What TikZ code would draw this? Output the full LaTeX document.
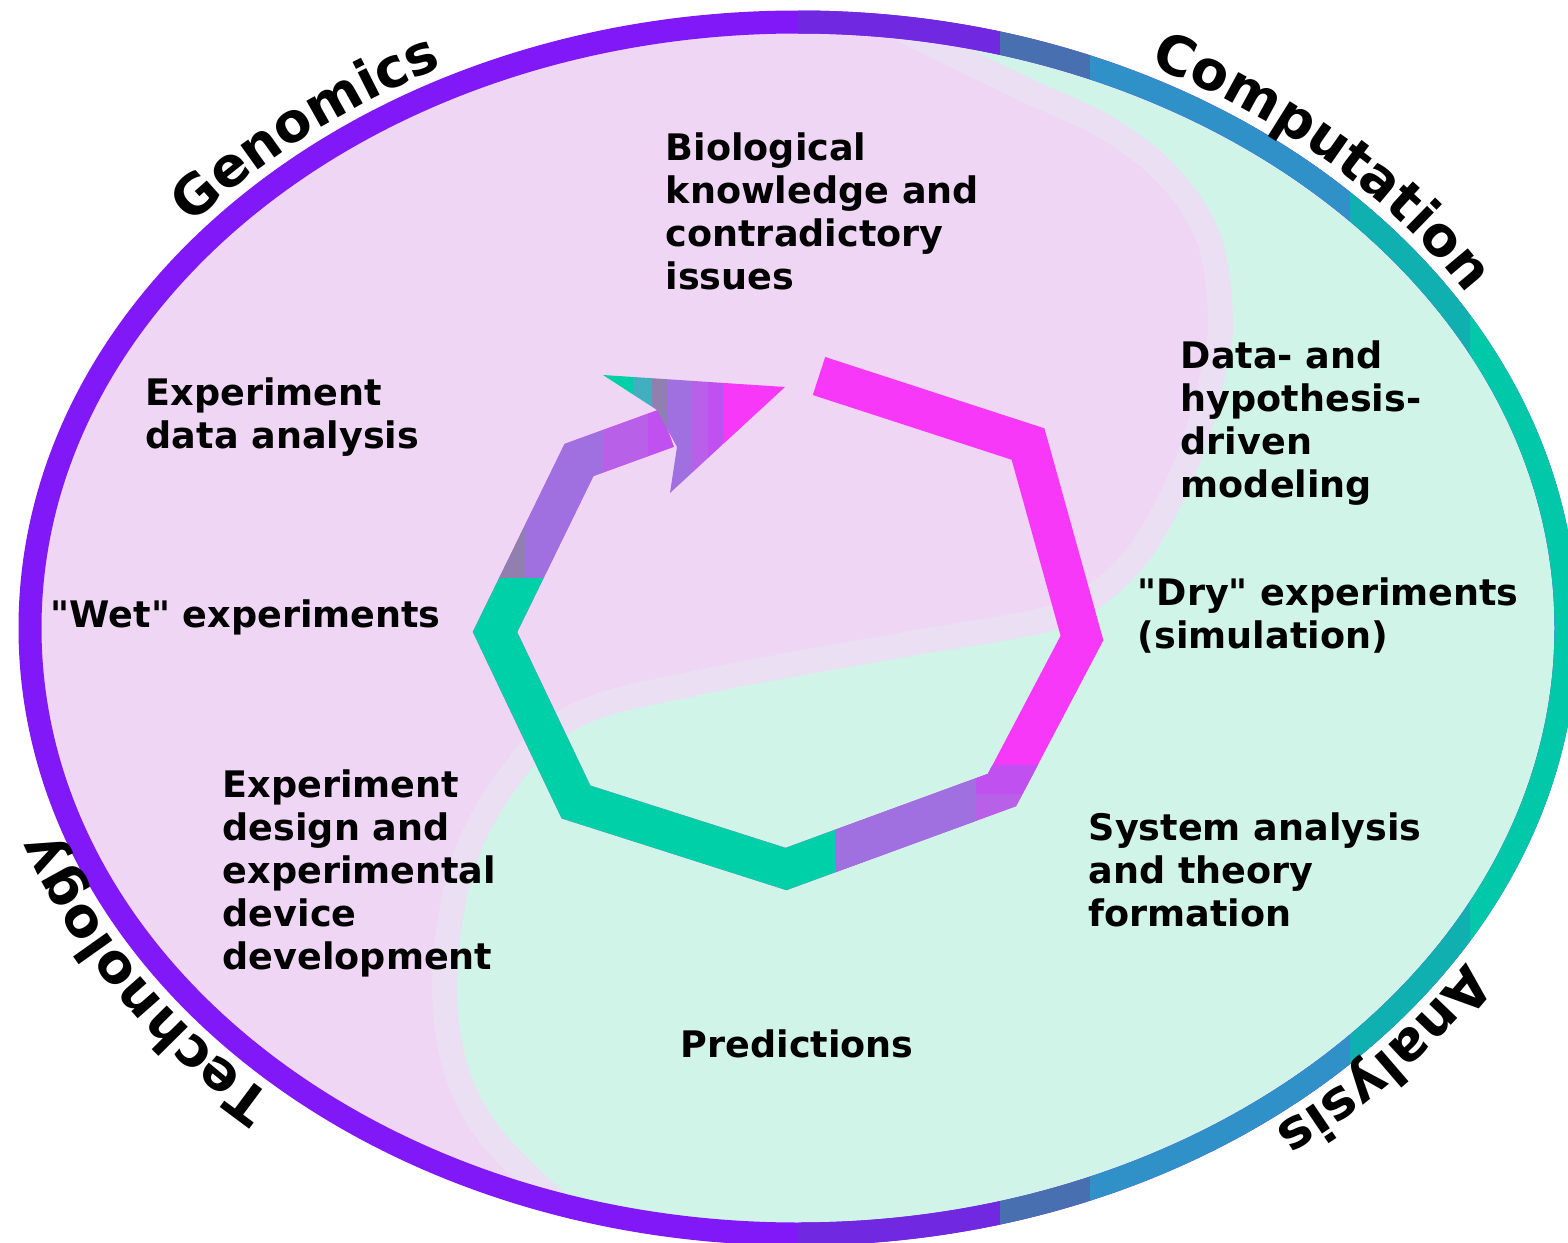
\documentclass[tikz,border=0pt]{standalone}
\usepackage{fontspec}
\newfontfamily\lblfont{DejaVu Sans}
\usetikzlibrary{decorations.text}

\definecolor{bgpink}{HTML}{EED6F4}
\definecolor{bgmint}{HTML}{D0F4E8}
\definecolor{bgband}{HTML}{EBDFF3}
\definecolor{rimpurple}{HTML}{8018F8}
\definecolor{rimviolet}{HTML}{7028E0}
\definecolor{rimslate}{HTML}{4870B0}
\definecolor{rimblue}{HTML}{3090C8}
\definecolor{rimcyan}{HTML}{10B0B0}
\definecolor{rimteal}{HTML}{00C8A8}
\definecolor{cycmagenta}{HTML}{F838F8}
\definecolor{cycpurple}{HTML}{C050F0}
\definecolor{cycorchid}{HTML}{B860E8}
\definecolor{cyclav}{HTML}{A070E0}
\definecolor{cycslate}{HTML}{9080B0}
\definecolor{cycsea}{HTML}{40B0C0}
\definecolor{cycteal}{HTML}{00D0A8}

\tikzset{
  lbl/.style={font=\lblfont\bfseries\fontsize{10.4}{12.2}\selectfont, align=left, anchor=base west, inner sep=0pt},
  cyc/.style={line width=4mm},
  rim/.style={line width=2.3mm},
  arclbl/.style={decorate, decoration={text along path, text align=center,
      text={|\lblfont\bfseries\fontsize{15.5}{18}\selectfont|#1}}},
}

\begin{document}
\begin{tikzpicture}[x=0.1mm, y=-0.1mm]
    \fill[white] (0,0) rectangle (1568,1243);
    \useasboundingbox (0,0) rectangle (1568,1243);

    % 背景（ピンクとミントの領域）
    \fill[bgpink] (798,628) ellipse[x radius=768, y radius=606];
    \begin{scope}
      \clip (798,628) ellipse[x radius=768, y radius=606];
      \draw[bgband, line width=5mm] plot[smooth, tension=0.6] coordinates {(870,0) (1028,77) (1113,117) (1177,167) (1220,233) (1233,314) (1227,368) (1207,444) (1183,502) (1150,559) (1110,600) (1056,630) (900,658) (700,695) (579,728) (512,795) (470,885) (458,1010) (489,1112) (579,1207) (640,1260)};
      \fill[bgmint] plot[smooth, tension=0.6] coordinates {(870,0) (1028,77) (1113,117) (1177,167) (1220,233) (1233,314) (1227,368) (1207,444) (1183,502) (1150,559) (1110,600) (1056,630) (900,658) (700,695) (579,728) (512,795) (470,885) (458,1010) (489,1112) (579,1207) (640,1260)} -- (1600,1260) -- (1600,-10) -- cycle;
    \end{scope}

    % 外周の枠
    \draw[rim, rimpurple] (798,628) ellipse[x radius=768, y radius=606];
    \begin{scope}
      \clip (798,-50) rectangle (1000,1300);
      \draw[rim, rimviolet] (798,628) ellipse[x radius=768, y radius=606];
    \end{scope}
    \begin{scope}
      \clip (1000,-50) rectangle (1090,1300);
      \draw[rim, rimslate] (798,628) ellipse[x radius=768, y radius=606];
    \end{scope}
    \begin{scope}
      \clip (1090,-50) rectangle (1350,1300);
      \draw[rim, rimblue] (798,628) ellipse[x radius=768, y radius=606];
    \end{scope}
    \begin{scope}
      \clip (1350,-50) rectangle (1470,1300);
      \draw[rim, rimcyan] (798,628) ellipse[x radius=768, y radius=606];
    \end{scope}
    \begin{scope}
      \clip (1470,-50) rectangle (1700,1300);
      \draw[rim, rimteal] (798,628) ellipse[x radius=768, y radius=606];
    \end{scope}

    % 循環の矢印
    \coordinate (S)  at (819,376);
    \coordinate (V1) at (1028,444);
    \coordinate (V2) at (1082,638);
    \coordinate (V3) at (1002,790);
    \coordinate (V4) at (786,869);
    \coordinate (V5) at (576,802);
    \coordinate (V6) at (495,632);
    \coordinate (V7) at (579,460);
    \coordinate (N)  at (667,428);

    \draw[cyc, cycmagenta] (S) -- (V1) -- (V2) -- (V3) -- (V4) -- (V5) -- (V6) -- (V7) -- (N);
    \begin{scope}
      \clip (835,765) rectangle (1200,950);
      \draw[cyc, cycorchid] (V2) -- (V3) -- (V4);
    \end{scope}
    \begin{scope}
      \clip (976,765) rectangle (1200,793);
      \draw[cyc, cycpurple] (V2) -- (V3) -- (V4);
    \end{scope}
    \begin{scope}
      \clip (835,765) rectangle (976,950);
      \draw[cyc, cyclav] (V3) -- (V4);
    \end{scope}
    \begin{scope}
      \clip (400,577) rectangle (835,950);
      \draw[cyc, cycteal] (V3) -- (V4) -- (V5) -- (V6) -- (V7);
    \end{scope}
    \begin{scope}
      \clip (400,300) rectangle (525,577);
      \draw[cyc, cycslate] (V6) -- (V7) -- (N);
    \end{scope}
    \begin{scope}
      \clip (525,300) rectangle (603,577);
      \draw[cyc, cyclav] (V6) -- (V7) -- (N);
    \end{scope}
    \begin{scope}
      \clip (603,300) rectangle (648,577);
      \draw[cyc, cycorchid] (V6) -- (V7) -- (N);
    \end{scope}
    \begin{scope}
      \clip (648,300) rectangle (700,577);
      \draw[cyc, cycpurple] (V6) -- (V7) -- (N);
    \end{scope}

    % 矢じり
    \begin{scope}
      \clip (603,375) -- (785,387) -- (670,493) -- (677,447) -- (657,410) -- cycle;
      \fill[cycteal] (600,360) rectangle (633,500);
      \fill[cycsea] (633,360) rectangle (652,500);
      \fill[cycslate] (652,360) rectangle (667,500);
      \fill[cyclav] (667,360) rectangle (692,500);
      \fill[cycorchid] (692,360) rectangle (708,500);
      \fill[cycpurple] (708,360) rectangle (723,500);
      \fill[cycmagenta] (723,360) rectangle (790,500);
    \end{scope}

    % 外周のラベル
    \path[arclbl=Genomics] (107.1,323.5) arc[start angle=209, end angle=253, x radius=790, y radius=628];
    \path[arclbl=Computation] (1015.7,24.3) arc[start angle=286, end angle=340, x radius=790, y radius=628];
    \path[arclbl=Technology] (367.8,1154.7) arc[start angle=123, end angle=171, x radius=790, y radius=628];
    \path[arclbl=Analysis] (1530.5,863.2) arc[start angle=22, end angle=62, x radius=790, y radius=628];

    \node[lbl] (bio) at (665,289) {Biological\\knowledge and\\contradictory\\issues};
    \node[lbl] (expdata) at (145,448) {Experiment\\data analysis};
    \node[lbl] (model) at (1180,497) {Data- and\\hypothesis-\\driven\\modeling};
    \node[lbl] (dry) at (1137,648) {"Dry" experiments\\(simulation)};
    \node[lbl] (wet) at (50,627) {"Wet" experiments};
    \node[lbl] (design) at (222,969) {Experiment\\design and\\experimental\\device\\development};
    \node[lbl] (system) at (1088,926) {System analysis\\and theory\\formation};
    \node[lbl] (pred) at (680,1057) {Predictions};

\end{tikzpicture}
\end{document}
